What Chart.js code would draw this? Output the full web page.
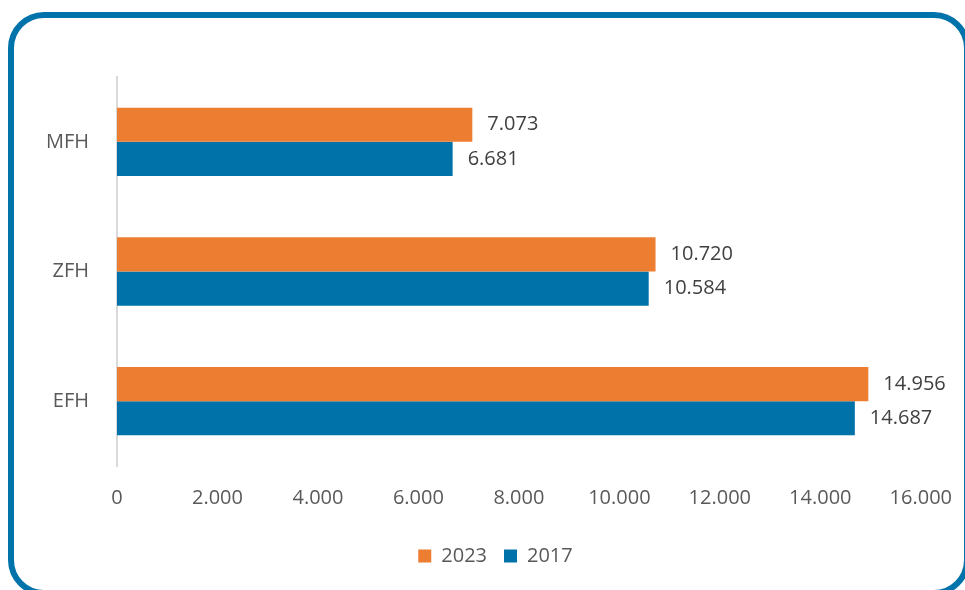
<!DOCTYPE html>
<html>
<head>
<meta charset="utf-8">
<script src="https://cdn.jsdelivr.net/npm/chart.js@4"></script>
<style>
    html, body { margin: 0; padding: 0; background: #fff; overflow: hidden; }
    #wrap { position: relative; width: 965px; height: 590px; }
    #frame {
        position: absolute; left: 8px; top: 12px; width: 962px; height: 584px;
        border: 6px solid #0073ab; border-radius: 36px; box-sizing: border-box;
    }
    #box { position: absolute; left: 0; top: 0; width: 965px; height: 590px; }
</style>
</head>
<body>
<div id="wrap">
    <div id="frame"></div>
    <div id="box"><canvas id="barChart"></canvas></div>
</div>
<script>
const categories = ['MFH', 'ZFH', 'EFH'];
const values2023 = [7073, 10720, 14956];
const values2017 = [6681, 10584, 14687];
const xTicks = [0, 2000, 4000, 6000, 8000, 10000, 12000, 14000, 16000];

function fmt(n) {
    return String(n).replace(/\B(?=(\d{3})+(?!\d))/g, '.');
}

// value labels right of each bar
const barLabels = {
    id: 'barLabels',
    afterDatasetsDraw(chart) {
        const ctx = chart.ctx;
        ctx.save();
        ctx.font = '20px "Open Sans"';
        ctx.fillStyle = '#404040';
        ctx.textBaseline = 'middle';
        ctx.textAlign = 'left';
        chart.data.datasets.forEach((ds, i) => {
            chart.getDatasetMeta(i).data.forEach((bar, j) => {
                ctx.fillText(fmt(ds.data[j]), bar.x + 15, bar.y);
            });
        });
        ctx.restore();
    }
};

// legend in the original sits centred under the plot, not the canvas
const legendShift = {
    id: 'legendShift',
    afterLayout(chart) {
        chart.legend.left += 35;
        chart.legend.right += 35;
    }
};

const ctx = document.getElementById('barChart').getContext('2d');
new Chart(ctx, {
    type: 'bar',
    data: {
        labels: categories,
        datasets: [
            { label: '2023', data: values2023, backgroundColor: '#ed7d31' },
            { label: '2017', data: values2017, backgroundColor: '#0072aa' }
        ]
    },
    options: {
        indexAxis: 'y',
        responsive: true,
        maintainAspectRatio: false,
        animation: false,
        barPercentage: 1,
        categoryPercentage: 0.527,
        layout: { padding: { top: 77, right: 44, bottom: 14, left: 0 } },
        scales: {
            x: {
                min: 0,
                max: 16000,
                afterBuildTicks(scale) { scale.ticks = xTicks.map(v => ({ value: v })); },
                afterFit(scale) { scale.height = 63; },
                grid: { display: false, drawTicks: true, tickLength: 7 },
                border: { display: false },
                ticks: {
                    padding: 13,
                    color: '#595959',
                    font: { family: 'Open Sans', size: 20 },
                    callback: v => fmt(v)
                }
            },
            y: {
                afterFit(scale) { scale.width = 117; },
                grid: { display: false, drawTicks: false },
                border: { display: true, color: '#d9d9d9', width: 2 },
                ticks: {
                    padding: 28,
                    color: '#595959',
                    font: { family: 'Open Sans', size: 20 }
                }
            }
        },
        plugins: {
            legend: {
                position: 'bottom',
                labels: {
                    boxWidth: 13,
                    boxHeight: 13,
                    padding: 17,
                    color: '#595959',
                    font: { family: 'Open Sans', size: 20 }
                }
            },
            tooltip: { enabled: false }
        }
    },
    plugins: [barLabels, legendShift]
});
</script>
</body>
</html>
